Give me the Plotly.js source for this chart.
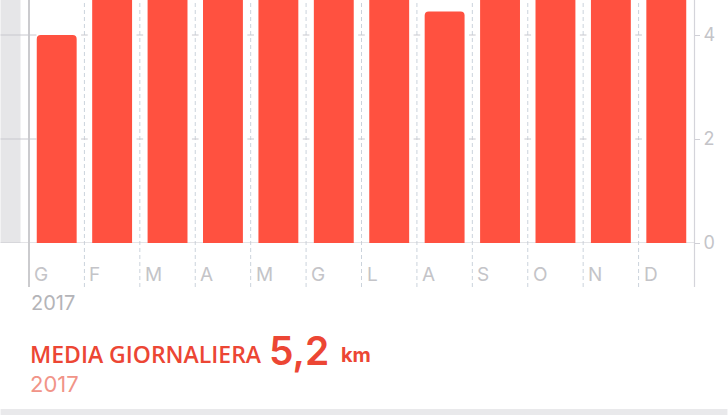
<!DOCTYPE html>
<html><head><meta charset="utf-8">
<script src="https://cdn.plot.ly/plotly-3.0.1.min.js"></script>
<style>html,body{margin:0;padding:0;background:#fff;}#chart{width:728px;height:415px;}</style>
</head><body><div id="chart"></div>
<script>
const months = ["G","F","M","A","M","G","L","A","S","O","N","D"];
const distanceKm = [4.0, 5.6, 5.3, 5.5, 5.8, 5.2, 5.4, 4.45, 5.1, 5.6, 5.0, 5.5];
const yTicks = [0, 2, 4];
const yearLabel = "2017";
const avgLabel = "MEDIA GIORNALIERA";
const avgValue = "5,2";
const avgUnit = "km";

const W = 728, H = 415;
const L = 28.5, R = 694.5, T = 0, B = 243;
const pw = R - L, ph = B - T;
const px = x => (x - L) / pw;
const py = y => (B - y) / ph;
const FONT = "Inter, 'Liberation Sans', sans-serif";
const FONT2 = "'Open Sans', Inter, sans-serif";

const xs = months.map((m, i) => i);

const shapes = [];
shapes.push({type:"rect", xref:"paper", yref:"paper", x0:px(0), x1:px(20), y0:py(243), y1:py(0), fillcolor:"#e6e6e8", line:{width:0}, layer:"below"});
for (let i = 1; i < months.length; i++) {
  shapes.push({type:"line", xref:"x", yref:"paper", x0:i-0.5, x1:i-0.5, y0:py(287), y1:py(0), line:{color:"#cbd3dc", width:1, dash:"4px,3px"}, layer:"below"});
}
shapes.push({type:"line", xref:"paper", yref:"paper", x0:px(28.5), x1:px(28.5), y0:py(287), y1:py(0), line:{color:"#a8a8ae", width:1.2}, layer:"below"});
shapes.push({type:"line", xref:"paper", yref:"paper", x0:px(695), x1:px(695), y0:py(287), y1:py(0), line:{color:"#d4d4da", width:1.2}, layer:"below"});
shapes.push({type:"line", xref:"paper", yref:"y", x0:px(0), x1:px(695), y0:0, y1:0, line:{color:"#c8c8ce", width:1}, layer:"below"});
yTicks.filter(v => v > 0).forEach(v => {
  shapes.push({type:"line", xref:"paper", yref:"y", x0:px(0), x1:px(36), y0:v, y1:v, line:{color:"#c8c8ce", width:1}, layer:"below"});
  for (let i = 1; i < months.length; i++) {
    shapes.push({type:"line", xref:"x", yref:"y", x0:i-0.5-0.06, x1:i-0.5+0.06, y0:v, y1:v, line:{color:"#c8c8ce", width:1}, layer:"below"});
  }
});
shapes.push({type:"rect", xref:"paper", yref:"paper", x0:px(0), x1:px(728), y0:py(415), y1:py(409), fillcolor:"#e9e9eb", line:{width:0}, layer:"below"});

const annotations = [];
months.forEach((m, i) => {
  annotations.push({xref:"x", yref:"paper", x:i-0.5, y:py(274), xanchor:"left", yanchor:"middle", xshift:3, text:m, showarrow:false, font:{family:FONT, size:19, color:"#c4c4c8"}});
});
annotations.push({xref:"paper", yref:"paper", x:px(28), y:py(303), xanchor:"left", yanchor:"middle", text:yearLabel, showarrow:false, font:{family:FONT, size:20, color:"#b4b4b8"}});
annotations.push({xref:"paper", yref:"paper", x:px(27), y:py(354), xanchor:"left", yanchor:"middle", text:avgLabel, showarrow:false, font:{family:FONT2, size:23, color:"#ec4634", weight:600}});
annotations.push({xref:"paper", yref:"paper", x:px(267), y:py(350), xanchor:"left", yanchor:"middle", text:avgValue, showarrow:false, font:{family:FONT, size:39, color:"#ec4634", weight:600}});
annotations.push({xref:"paper", yref:"paper", x:px(339), y:py(355), xanchor:"left", yanchor:"middle", text:avgUnit, showarrow:false, font:{family:FONT, size:20, color:"#ec4634", weight:700}});
annotations.push({xref:"paper", yref:"paper", x:px(27), y:py(384), xanchor:"left", yanchor:"middle", text:yearLabel, showarrow:false, font:{family:FONT, size:22, color:"#f19488"}});

const data = [{
  type:"bar", x:xs, y:distanceKm, width:0.72,
  marker:{color:"#ff5140", cornerradius:4, line:{width:0}},
  hoverinfo:"skip"
}];

const layout = {
  width:W, height:H, margin:{l:L, r:W-R, t:T, b:H-B, pad:0},
  paper_bgcolor:"#ffffff", plot_bgcolor:"rgba(0,0,0,0)",
  showlegend:false,
  xaxis:{range:[-0.5, 11.5], showticklabels:false, showgrid:false, zeroline:false, showline:false, ticks:"", fixedrange:true},
  yaxis:{range:[0, 243/52], side:"right", tickvals:yTicks, ticktext:yTicks.map(String), showgrid:false, zeroline:false, showline:false,
         ticks:"outside", ticklen:5, tickcolor:"#d0d0d6", tickfont:{family:FONT, size:18, color:"#c4c4c8"}, fixedrange:true},
  shapes:shapes, annotations:annotations,
  font:{family:FONT}
};
Plotly.newPlot("chart", data, layout, {displayModeBar:false, staticPlot:true});
</script></body></html>
